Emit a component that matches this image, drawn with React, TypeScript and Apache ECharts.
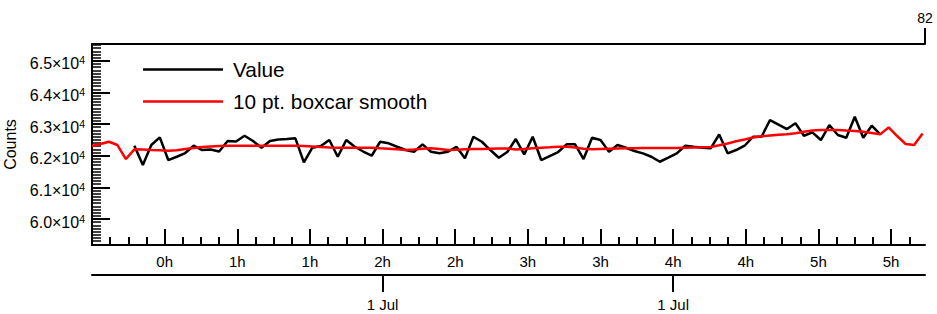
import React, { useEffect, useRef } from "react";
import * as echarts from "echarts";

// ---- data ----
// sample interval in minutes (points are evenly spaced from 0:00)
const SAMPLE_MINUTES = 3.5;

// raw values; null where the raw trace is not drawn
const valueSeries: (number | null)[] = [
  null, null, null, null, null,
  62316, 61706, 62338, 62581, 61864, 61968, 62085, 62316, 62180, 62196,
  62133, 62465, 62449, 62632, 62465, 62253, 62465, 62512, 62528, 62550,
  61791, 62253, 62307, 62496, 61968, 62496, 62284, 62133, 62000, 62442,
  62392, 62284, 62180, 62126, 62360, 62126, 62076, 62126, 62284, 61918,
  62600, 62442, 62180, 61937, 62117, 62528, 62044, 62600, 61864, 61991,
  62117, 62360, 62360, 61896, 62569, 62496, 62126, 62338, 62253, 62149,
  62076, 61968, 61810, 61937, 62076, 62316, 62284, 62253, 62234, 62670,
  62076, 62180, 62316, 62600, 62600, 63128, 62986, 62844, 63024, 62632,
  62739, 62496, 62970, 62654, 62569, 63232, 62569, 62948, 62676,
  null, null, null, null, null,
];

// 10 pt. boxcar smooth
const smoothSeries: number[] = [
  62307, 62370, 62442, 62338, 61896, 62202, 62196, 62180, 62171, 62158,
  62171, 62212, 62243, 62275, 62291, 62307, 62316, 62316, 62316, 62316,
  62316, 62316, 62316, 62316, 62316, 62307, 62291, 62275, 62259, 62253,
  62253, 62253, 62253, 62253, 62234, 62218, 62202, 62180, 62196, 62218,
  62234, 62212, 62180, 62190, 62202, 62212, 62212, 62221, 62228, 62228,
  62196, 62212, 62234, 62250, 62265, 62281, 62284, 62259, 62218, 62202,
  62212, 62221, 62228, 62234, 62234, 62243, 62243, 62243, 62243, 62243,
  62253, 62259, 62265, 62275, 62329, 62386, 62455, 62512, 62575, 62613,
  62638, 62660, 62679, 62711, 62755, 62796, 62812, 62812, 62812, 62796,
  62781, 62758, 62717, 62676, 62897, 62623, 62370, 62338, 62702,
];

const seriesNames = ["Value", "10 pt. boxcar smooth"];

// axes
const X_MIN = 0;
const X_MAX = 344; // minutes
const X_MAJOR_TICKS = [30, 60, 90, 120, 150, 180, 210, 240, 270, 300, 330];
const X_MINOR_STEP = 7.5;
const DATE_TICKS = [120, 240];
const DATE_LABEL = "1 Jul";
const Y_MIN = 59180;
const Y_MAX = 65530;
const Y_MAJOR_TICKS = [60000, 61000, 62000, 63000, 64000, 65000];
const Y_MINOR_STEP = 100;
const TOP_AXIS_MAX = 82;
const TOP_TICKS = [82];

const FONT = "'Liberation Sans', Arial, Helvetica, sans-serif";

export default function App() {
  const ref = useRef<HTMLDivElement | null>(null);

  useEffect(() => {
    if (!ref.current) return;
    const chart = echarts.init(ref.current, undefined, { renderer: "svg" });

    const xMinor: number[] = [];
    for (let v = X_MINOR_STEP; v < X_MAX; v += X_MINOR_STEP) xMinor.push(v);
    const yMinor: number[] = [];
    for (let v = Math.ceil(Y_MIN / Y_MINOR_STEP) * Y_MINOR_STEP; v <= Y_MAX; v += Y_MINOR_STEP) yMinor.push(v);

    const valData = valueSeries.map((v, i) => [i * SAMPLE_MINUTES, v]);
    const smData = smoothSeries.map((v, i) => [i * SAMPLE_MINUTES, v]);

    const axisLine = { show: true, lineStyle: { color: "#000", width: 2 } };

    chart.setOption({
      animation: false,
      backgroundColor: "#fff",
      textStyle: { fontFamily: FONT, color: "#000" },
      grid: { left: 92, right: 12, top: 44, bottom: 69, containLabel: false, outerBoundsMode: "none" },
      legend: {
        data: seriesNames,
        orient: "vertical",
        left: 138,
        top: 54,
        icon: "rect",
        itemWidth: 80,
        itemHeight: 2.5,
        itemGap: 11,
        textStyle: { fontSize: 20.8, lineHeight: 20, color: "#000", fontFamily: FONT, padding: [0, 0, 0, 5] },
      },
      xAxis: [
        {
          type: "value",
          position: "bottom",
          min: X_MIN,
          max: X_MAX,
          axisLine,
          splitLine: { show: false },
          axisTick: { show: true, inside: true, length: 16, lineStyle: { color: "#000", width: 2 }, customValues: X_MAJOR_TICKS },
          axisLabel: {
            customValues: X_MAJOR_TICKS,
            formatter: (v: number) => Math.floor(v / 60) + "h",
            fontSize: 15,
            margin: 9,
            color: "#000",
            fontFamily: FONT,
          },
        },
        {
          type: "value",
          position: "bottom",
          min: X_MIN,
          max: X_MAX,
          axisLine: { show: false },
          splitLine: { show: false },
          axisTick: { show: true, inside: true, length: 8, lineStyle: { color: "#000", width: 2 }, customValues: xMinor },
          axisLabel: { show: false },
        },
        {
          type: "value",
          position: "bottom",
          offset: 30,
          min: X_MIN,
          max: X_MAX,
          axisLine,
          splitLine: { show: false },
          axisTick: { show: true, inside: false, length: 17, lineStyle: { color: "#000", width: 2 }, customValues: DATE_TICKS },
          axisLabel: {
            customValues: DATE_TICKS,
            formatter: () => DATE_LABEL,
            fontSize: 15,
            margin: 22,
            color: "#000",
            fontFamily: FONT,
          },
        },
        {
          type: "value",
          position: "top",
          min: 0,
          max: TOP_AXIS_MAX,
          axisLine,
          splitLine: { show: false },
          axisTick: { show: true, inside: false, length: 16, lineStyle: { color: "#000", width: 2 }, customValues: TOP_TICKS },
          axisLabel: {
            customValues: TOP_TICKS,
            fontSize: 14,
            margin: 19,
            color: "#000",
            fontFamily: FONT,
          },
        },
      ],
      yAxis: [
        {
          type: "value",
          position: "left",
          min: Y_MIN,
          max: Y_MAX,
          name: "Counts",
          nameLocation: "middle",
          nameRotate: 90,
          nameGap: 63,
          nameTextStyle: { fontSize: 16, color: "#000", fontFamily: FONT },
          axisLine,
          splitLine: { show: false },
          axisTick: { show: true, inside: true, length: 18, lineStyle: { color: "#000", width: 2 }, customValues: Y_MAJOR_TICKS },
          axisLabel: {
            customValues: Y_MAJOR_TICKS,
            margin: 7,
            padding: [6, 0, 0, 0],
            formatter: (v: number) => `{b|${(v / 10000).toFixed(1)}×10}{s|4}`,
            rich: {
              b: { fontSize: 16, lineHeight: 18, color: "#000", fontFamily: FONT },
              s: { fontSize: 10.5, lineHeight: 10, verticalAlign: "top", color: "#000", fontFamily: FONT },
            },
          },
        },
        {
          type: "value",
          position: "left",
          min: Y_MIN,
          max: Y_MAX,
          axisLine: { show: false },
          splitLine: { show: false },
          axisTick: { show: true, inside: true, length: 9, lineStyle: { color: "#000", width: 1.5 }, customValues: yMinor },
          axisLabel: { show: false },
        },
      ],
      series: [
        {
          name: seriesNames[0],
          type: "line",
          xAxisIndex: 0,
          yAxisIndex: 0,
          data: valData,
          showSymbol: false,
          symbol: "none",
          connectNulls: false,
          itemStyle: { color: "#000" },
          lineStyle: { color: "#000", width: 2.5 },
          z: 2,
        },
        {
          name: seriesNames[1],
          type: "line",
          xAxisIndex: 0,
          yAxisIndex: 0,
          data: smData,
          showSymbol: false,
          symbol: "none",
          itemStyle: { color: "#ff0000" },
          lineStyle: { color: "#ff0000", width: 2.5 },
          z: 3,
        },
      ],
    });

    return () => chart.dispose();
  }, []);

  return (
    <div
      ref={ref}
      style={{ position: "fixed", left: 0, top: 0, width: 937, height: 314, background: "#fff" }}
    />
  );
}
